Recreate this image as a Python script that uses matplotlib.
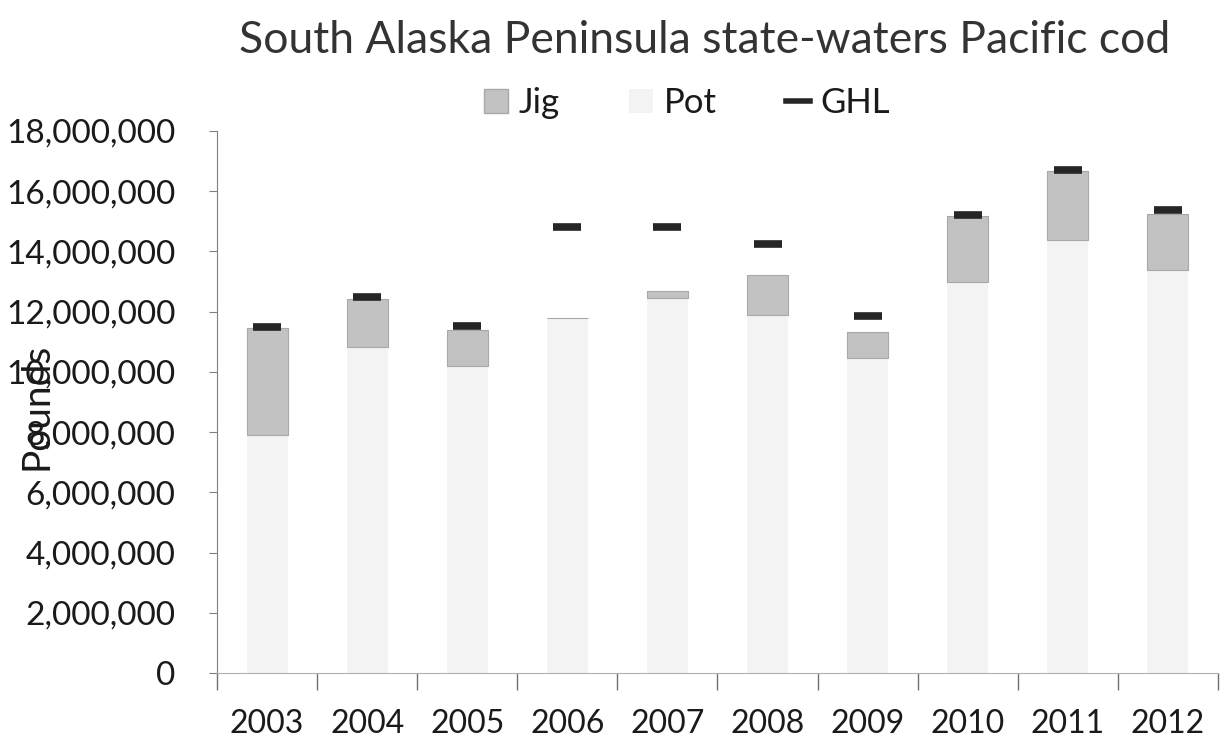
import matplotlib
matplotlib.use("Agg")
import matplotlib.pyplot as plt
from matplotlib.patches import Patch
from matplotlib.lines import Line2D
import numpy as np

years = ["2003", "2004", "2005", "2006", "2007", "2008", "2009", "2010", "2011", "2012"]
pot = [7920000, 10820000, 10190000, 11790000, 12450000, 11890000, 10470000, 12990000, 14380000, 13380000]
jig = [3550000, 1610000, 1210000, 0, 250000, 1340000, 870000, 2190000, 2290000, 1860000]
ghl = [11500000, 12500000, 11540000, 14820000, 14820000, 14240000, 11870000, 15200000, 16700000, 15380000]

plt.rcParams['font.family'] = ['Lato', 'DejaVu Sans']

fig = plt.figure(figsize=(12.29, 7.45), dpi=100)
ax = fig.add_axes([0.1766, 0.0966, 0.8144, 0.7276])

x = np.arange(len(years))
w = 0.41
pot_c = "#f3f3f3"
jig_c = "#c2c2c2"
ax.bar(x, pot, width=w, color=pot_c, edgecolor="none", zorder=2)
ax.bar(x, jig, width=w, bottom=pot, color=jig_c, edgecolor="#a8a8a8", linewidth=0.8, zorder=2)
ax.plot(x, ghl, linestyle="none", marker="_", markersize=20, markeredgewidth=5.5,
        color="#262626", zorder=3)

ax.set_xlim(-0.5, len(years) - 0.5)
ax.set_ylim(0, 18000000)
ax.set_yticks(np.arange(0, 18000001, 2000000))
ax.yaxis.set_major_formatter(matplotlib.ticker.FuncFormatter(lambda v, p: f"{int(v):,}"))
ax.set_xticks(x)
ax.set_xticklabels(years)
ax.set_xticks(np.arange(-0.5, len(years)), minor=True)
ax.tick_params(axis="x", which="major", length=0, pad=26, labelsize=23, colors="#1a1a1a")
ax.tick_params(axis="x", which="minor", length=12, color="#707070", width=1)
ax.tick_params(axis="y", length=6, color="#808080", labelsize=24, labelcolor="#1a1a1a", pad=24)

for s in ["top", "right"]:
    ax.spines[s].set_visible(False)
ax.spines["left"].set_color("#808080")
ax.spines["bottom"].set_color("#b0b0b0")

fig.text(0.030, 0.455, "Pounds", rotation=90, ha="center", va="center",
         fontsize=28, color="#1a1a1a")

fig.text(0.573, 0.945, "South Alaska Peninsula state-waters Pacific cod", ha="center",
         va="center", fontsize=32, color="#333333")

handles = [Patch(facecolor=jig_c, edgecolor="#a8a8a8", label="Jig"),
           Patch(facecolor=pot_c, edgecolor="none", label="Pot"),
           Line2D([0], [0], color="#262626", linewidth=4, label="GHL")]
fig.legend(handles=handles, loc="center", bbox_to_anchor=(0.559, 0.862), ncol=3,
           frameon=False, fontsize=25, handlelength=0.7, handleheight=0.7,
           columnspacing=2.0, handletextpad=0.3, labelcolor="#1a1a1a")

fig.savefig("out.png", dpi=100)
